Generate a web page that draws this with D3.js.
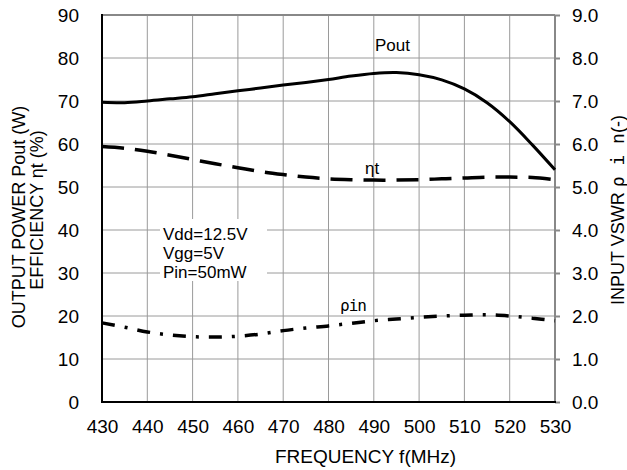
<!DOCTYPE html>
<html>
<head>
<meta charset="utf-8">
<script src="https://cdn.jsdelivr.net/npm/d3@7/dist/d3.min.js"></script>
<style>
  body { margin: 0; background: #fff; }
  svg { display: block; }
  text { font-family: "Liberation Sans", Arial, sans-serif; fill: #000; }
</style>
</head>
<body>
<svg id="chart" width="627" height="470"></svg>
<script>
// frequency (MHz) and the three measured curves
const freq = [430, 435, 440, 445, 450, 455, 460, 465, 470, 475, 480, 485, 490, 495, 500, 505, 510, 515, 520, 525, 530];
const pout = [69.7, 69.6, 70.0, 70.5, 71.0, 71.7, 72.4, 73.0, 73.7, 74.3, 75.0, 75.8, 76.4, 76.6, 76.1, 74.9, 72.8, 69.6, 65.2, 59.8, 54.0];
const eta  = [59.4, 59.0, 58.3, 57.4, 56.4, 55.4, 54.5, 53.6, 52.9, 52.3, 51.9, 51.7, 51.6, 51.6, 51.7, 51.9, 52.1, 52.3, 52.3, 52.2, 51.7];
const rho  = [1.84, 1.74, 1.63, 1.56, 1.52, 1.51, 1.53, 1.58, 1.66, 1.72, 1.77, 1.83, 1.89, 1.93, 1.97, 2.00, 2.02, 2.03, 2.00, 1.95, 1.89];

const xTicks = [430, 440, 450, 460, 470, 480, 490, 500, 510, 520, 530];
const yLeftTicks = [0, 10, 20, 30, 40, 50, 60, 70, 80, 90];
const yRightTicks = [0, 1, 2, 3, 4, 5, 6, 7, 8, 9];
const conditions = ["Vdd=12.5V", "Vgg=5V", "Pin=50mW"];

const svg = d3.select("#chart");
const L = 102, R = 555, T = 15, B = 402;

const x = d3.scaleLinear().domain([430, 530]).range([L, R]);
const yL = d3.scaleLinear().domain([0, 90]).range([B, T]);
const yR = d3.scaleLinear().domain([0, 9]).range([B, T]);

// grid
const grid = svg.append("g").attr("stroke", "#9a9a9a").attr("stroke-width", 1);
grid.selectAll(".vx").data(xTicks).enter().append("line")
  .attr("x1", d => x(d)).attr("x2", d => x(d)).attr("y1", T).attr("y2", B);
grid.selectAll(".hy").data(yLeftTicks).enter().append("line")
  .attr("x1", L).attr("x2", R).attr("y1", d => yL(d)).attr("y2", d => yL(d));

// white box behind the conditions text
svg.append("rect").attr("x", 160).attr("y", 219).attr("width", 107).attr("height", 62).attr("fill", "#fff");

// frame: grey top/right, black left/bottom
svg.append("line").attr("x1", L).attr("x2", R).attr("y1", T).attr("y2", T).attr("stroke", "#888").attr("stroke-width", 2);
svg.append("line").attr("x1", R).attr("x2", R).attr("y1", T).attr("y2", B).attr("stroke", "#888").attr("stroke-width", 2);

// left axis
const axL = svg.append("g").attr("transform", `translate(${L},0)`)
  .call(d3.axisLeft(yL).tickValues(yLeftTicks).tickSize(0).tickPadding(23));
axL.select(".domain").remove();
axL.selectAll("text").style("font-size", "19px").attr("font-family", null);

// right axis
const axR = svg.append("g").attr("transform", `translate(${R},0)`)
  .call(d3.axisRight(yR).tickValues(yRightTicks).tickSize(5).tickPadding(12).tickFormat(d3.format(".1f")));
axR.select(".domain").remove();
axR.selectAll("line").attr("stroke", "#888").attr("stroke-width", 2);
axR.selectAll("text").style("font-size", "19px").attr("font-family", null);

// bottom axis
const axB = svg.append("g").attr("transform", `translate(0,${B})`)
  .call(d3.axisBottom(x).tickValues(xTicks).tickSize(0).tickPadding(18));
axB.select(".domain").remove();
axB.selectAll("text").style("font-size", "19px").attr("font-family", null);

svg.append("line").attr("x1", L).attr("x2", L).attr("y1", T - 1).attr("y2", B + 1).attr("stroke", "#000").attr("stroke-width", 2);
svg.append("line").attr("x1", L - 1).attr("x2", R + 1).attr("y1", B).attr("y2", B).attr("stroke", "#000").attr("stroke-width", 2);

// curves
const lineL = d3.line().x((d, i) => x(freq[i])).y(d => yL(d)).curve(d3.curveCatmullRom.alpha(0.5));
const lineR = d3.line().x((d, i) => x(freq[i])).y(d => yR(d)).curve(d3.curveCatmullRom.alpha(0.5));

svg.append("path").datum(pout).attr("d", lineL)
  .attr("fill", "none").attr("stroke", "#000").attr("stroke-width", 3);
svg.append("path").datum(eta).attr("d", lineL)
  .attr("fill", "none").attr("stroke", "#000").attr("stroke-width", 3.5).attr("stroke-dasharray", "22,11");
svg.append("path").datum(rho).attr("d", lineR)
  .attr("fill", "none").attr("stroke", "#000").attr("stroke-width", 3.5).attr("stroke-dasharray", "13,10,3,10");

// curve labels
svg.append("text").attr("x", 375).attr("y", 51).style("font-size", "17px").text("Pout");
svg.append("text").attr("x", 365).attr("y", 174).style("font-size", "17px").text("ηt");
svg.append("text").attr("x", 340).attr("y", 311).style("font-size", "16px")
  .style("font-family", "'DejaVu Sans Mono', monospace").attr("letter-spacing", -1).text("ρin");

// conditions
svg.append("g").selectAll("text").data(conditions).enter().append("text")
  .attr("x", 163).attr("y", (d, i) => 240 + i * 19).style("font-size", "17px").text(d => d);

// axis titles
svg.append("text").attr("x", 365.5).attr("y", 463).attr("text-anchor", "middle")
  .style("font-size", "19px").text("FREQUENCY f(MHz)");

svg.append("text").attr("transform", "translate(25,217) rotate(-90)").attr("text-anchor", "middle")
  .style("font-size", "18px").text("OUTPUT POWER Pout (W)");
svg.append("text").attr("transform", "translate(43,210) rotate(-90)").attr("text-anchor", "middle")
  .style("font-size", "18px").text("EFFICIENCY ηt (%)");

const rt = svg.append("text").attr("transform", "translate(624,210) rotate(-90)").attr("text-anchor", "middle")
  .style("font-size", "18px");
rt.append("tspan").text("INPUT VSWR ");
rt.append("tspan").style("font-family", "'DejaVu Sans Mono', monospace").style("font-size", "18px").text("ρ i n");
rt.append("tspan").text("(-)");
</script>
</body>
</html>
